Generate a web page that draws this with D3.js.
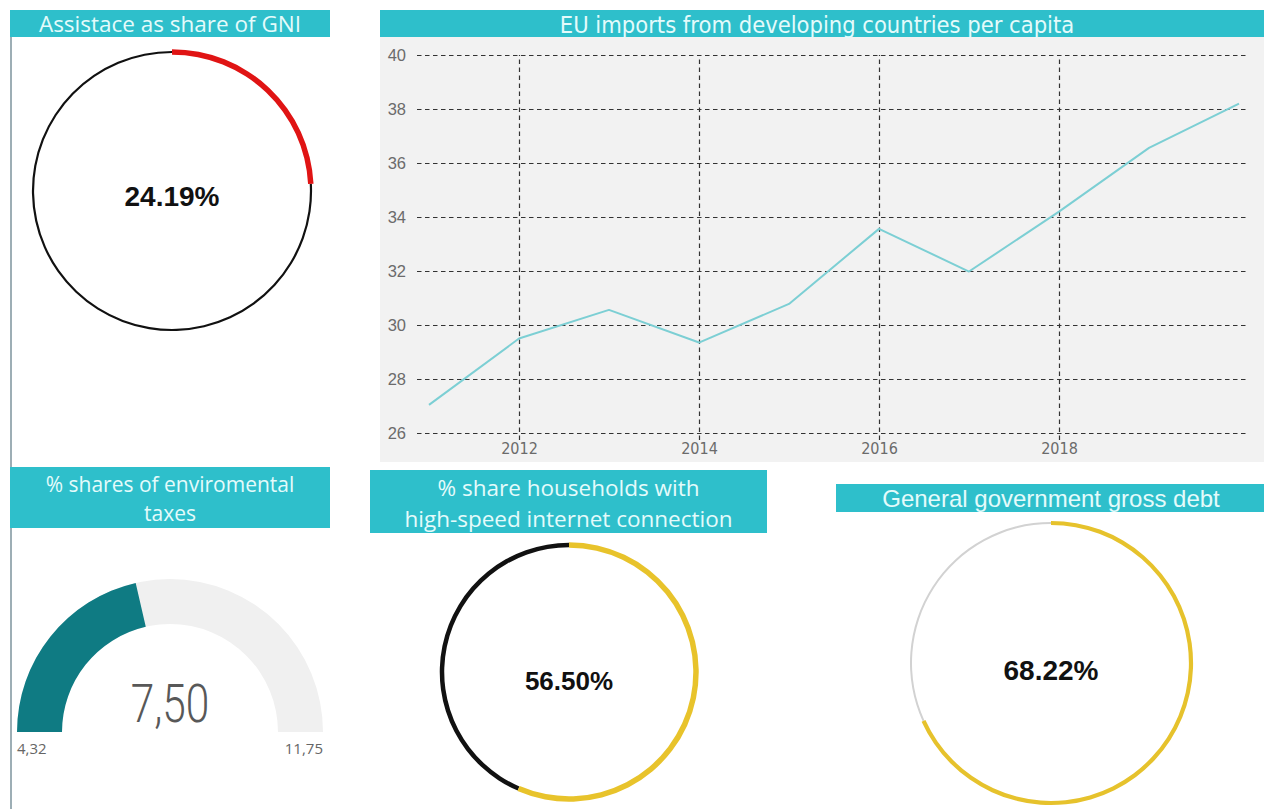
<!DOCTYPE html>
<html>
<head>
<meta charset="utf-8">
<script src="https://cdn.jsdelivr.net/npm/d3@7"></script>
<style>
  html, body { margin: 0; padding: 0; background: #ffffff; }
  svg { display: block; }
  .title { fill: #e4fbfb; font-family: "Open Sans", "DejaVu Sans", sans-serif; text-anchor: middle; }
  .narrow { font-family: "Liberation Sans Narrow", "DejaVu Sans Condensed", sans-serif; }
</style>
</head>
<body>
<svg id="dash" width="1264" height="809"></svg>
<script>
// ---- data ----
const years = [2011, 2012, 2013, 2014, 2015, 2016, 2017, 2018, 2019, 2020];
const importsPerCapita = [27.04, 29.5, 30.56, 29.35, 30.78, 33.56, 31.98, 34.2, 36.56, 38.2];
const yTickValues = [26, 28, 30, 32, 34, 36, 38, 40];
const xTickYears = [2012, 2014, 2016, 2018];

const assistanceShare = 24.19;      // % of GNI
const internetShare = 56.50;        // % households
const debtShare = 68.22;            // % gross debt

const envTaxMin = 4.32;
const envTaxMax = 11.75;
const envTaxValue = 7.50;

const titles = {
  assistance: ["Assistace as share of GNI"],
  imports: ["EU imports from developing countries per capita"],
  envTax: ["% shares of enviromental", "taxes"],
  internet: ["% share households with", "high-speed internet connection"],
  debt: ["General government gross debt"]
};

// ---- setup ----
const svg = d3.select("#dash");
const TEAL = "#2ebfcb";
const TAU = 2 * Math.PI;
const pctFmt = d3.format(".2f");
const commaFmt = d3.formatLocale({decimal: ",", thousands: ".", grouping: [3], currency: ["", ""]}).format(".2f");

// panel divider on the left
svg.append("line")
  .attr("x1", 11).attr("x2", 11).attr("y1", 37).attr("y2", 809)
  .attr("stroke", "#7d939c").attr("stroke-width", 1.5);

function titleBar(x, y, w, h, lines, opts) {
  const g = svg.append("g");
  g.append("rect").attr("x", x).attr("y", y).attr("width", w).attr("height", h).attr("fill", TEAL);
  const t = g.append("text").attr("class", "title" + (opts.cls ? " " + opts.cls : ""))
    .attr("font-size", opts.size)
    .style("font-family", opts.family || null);
  const lineH = opts.lineH || 0;
  lines.forEach((ln, i) => {
    t.append("tspan").attr("x", x + w / 2 + (opts.dx || 0)).attr("y", opts.baseline + i * lineH).text(ln);
  });
  return g;
}

// ring with a highlighted arc from 12 o'clock clockwise
function ringGauge(cx, cy, r, value, o) {
  const g = svg.append("g").attr("transform", `translate(${cx},${cy})`);
  const ang = d3.scaleLinear().domain([0, 100]).range([0, TAU]);
  const restArc = d3.arc().innerRadius(r - o.restW / 2).outerRadius(r + o.restW / 2)
    .startAngle(ang(value)).endAngle(TAU);
  const valArc = d3.arc().innerRadius(r - o.valW / 2).outerRadius(r + o.valW / 2)
    .startAngle(0).endAngle(ang(value));
  g.append("path").attr("d", restArc()).attr("fill", o.restColor);
  g.append("path").attr("d", valArc()).attr("fill", o.valColor);
  g.append("text").attr("text-anchor", "middle").attr("y", o.textDy)
    .attr("font-family", "'Liberation Sans', Arial, sans-serif")
    .attr("font-weight", "bold").attr("font-size", o.fontSize).attr("fill", "#111")
    .text(pctFmt(value) + "%");
}

// ---- panel 1: assistance ring ----
titleBar(10, 10, 320, 27, titles.assistance, {size: 22.5, baseline: 32});
ringGauge(172, 191, 139, assistanceShare, {
  restW: 2.2, valW: 5.5, restColor: "#111", valColor: "#e01414", textDy: 15, fontSize: 28
});

// ---- panel 2: line chart ----
const plot = {x0: 417, x1: 1248, top: 55, bottom: 433};
svg.append("rect").attr("x", 380).attr("y", 37).attr("width", 884).attr("height", 425).attr("fill", "#f2f2f2");
titleBar(380, 10, 884, 27, titles.imports, {size: 23.5, baseline: 32.5, cls: "narrow", dx: -5});

const x = d3.scaleLinear().domain([2011, 2020]).range([429, 1239]);
const y = d3.scaleLinear().domain([26, 40]).range([plot.bottom, plot.top]);

const yAxis = svg.append("g").attr("transform", `translate(${plot.x0},0)`)
  .call(d3.axisLeft(y).tickValues(yTickValues).tickSize(-(plot.x1 - plot.x0)).tickPadding(11));
yAxis.select(".domain").remove();
yAxis.selectAll(".tick line").attr("stroke", "#333").attr("stroke-width", 1.2).attr("stroke-dasharray", "4.5,3.5");
yAxis.selectAll(".tick text").attr("fill", "#6b6b6b").attr("font-size", 16.5)
  .attr("font-family", "'Liberation Sans', Arial, sans-serif");

const xAxisY = 440;
const xAxis = svg.append("g").attr("transform", `translate(0,${xAxisY})`)
  .call(d3.axisBottom(x).tickValues(xTickYears).tickFormat(d3.format("d"))
    .tickSize(-(xAxisY - plot.top)).tickPadding(3));
xAxis.select(".domain").remove();
xAxis.selectAll(".tick line").attr("stroke", "#333").attr("stroke-width", 1.2).attr("stroke-dasharray", "4.5,3.5");
xAxis.selectAll(".tick text").attr("fill", "#6b6b6b").attr("font-size", 16)
  .attr("font-family", "'Liberation Sans Narrow', 'DejaVu Sans Condensed', sans-serif");

svg.append("path")
  .datum(years.map((yr, i) => [yr, importsPerCapita[i]]))
  .attr("fill", "none").attr("stroke", "#7ccfd4").attr("stroke-width", 2)
  .attr("stroke-linejoin", "round")
  .attr("d", d3.line().x(d => x(d[0])).y(d => y(d[1])));

// ---- panel 3: environmental taxes half gauge ----
titleBar(10, 467, 320, 61, titles.envTax, {size: 21, baseline: 492, lineH: 29});
{
  const cx = 170, cy = 732, rOut = 153, rIn = 108;
  const g = svg.append("g").attr("transform", `translate(${cx},${cy})`);
  const a = d3.scaleLinear().domain([envTaxMin, envTaxMax]).range([-Math.PI / 2, Math.PI / 2]);
  const arc = d3.arc().innerRadius(rIn).outerRadius(rOut);
  g.append("path").attr("d", arc({startAngle: a(envTaxMin), endAngle: a(envTaxMax)})).attr("fill", "#f0f0f0");
  g.append("path").attr("d", arc({startAngle: a(envTaxMin), endAngle: a(envTaxValue)})).attr("fill", "#0f7b83");
  g.append("text").attr("text-anchor", "middle").attr("y", -10)
    .attr("font-family", "Roboto, sans-serif").attr("font-weight", 300).attr("font-size", 53)
    .attr("fill", "#585858").attr("transform", "scale(0.8,1)")
    .text(commaFmt(envTaxValue));
  g.append("text").attr("x", -rOut).attr("y", 22).attr("text-anchor", "start")
    .attr("font-family", "'Open Sans', sans-serif").attr("font-size", 15).attr("fill", "#666")
    .text(commaFmt(envTaxMin));
  g.append("text").attr("x", rOut).attr("y", 22).attr("text-anchor", "end")
    .attr("font-family", "'Open Sans', sans-serif").attr("font-size", 15).attr("fill", "#666")
    .text(commaFmt(envTaxMax));
}

// ---- panel 4: internet connection ring ----
titleBar(370, 470, 397, 63, titles.internet, {size: 22.5, baseline: 496, lineH: 31});
ringGauge(569, 672, 127, internetShare, {
  restW: 4.5, valW: 5.5, restColor: "#111", valColor: "#e8c32b", textDy: 18, fontSize: 26
});

// ---- panel 5: government debt ring ----
titleBar(836, 484, 428, 28, titles.debt, {size: 24, baseline: 507, dx: 1,
  family: "'Liberation Sans', Arial, sans-serif"});
ringGauge(1051, 663, 140, debtShare, {
  restW: 2, valW: 4.2, restColor: "#d2d2d2", valColor: "#e6c22c", textDy: 17, fontSize: 28
});
</script>
</body>
</html>
